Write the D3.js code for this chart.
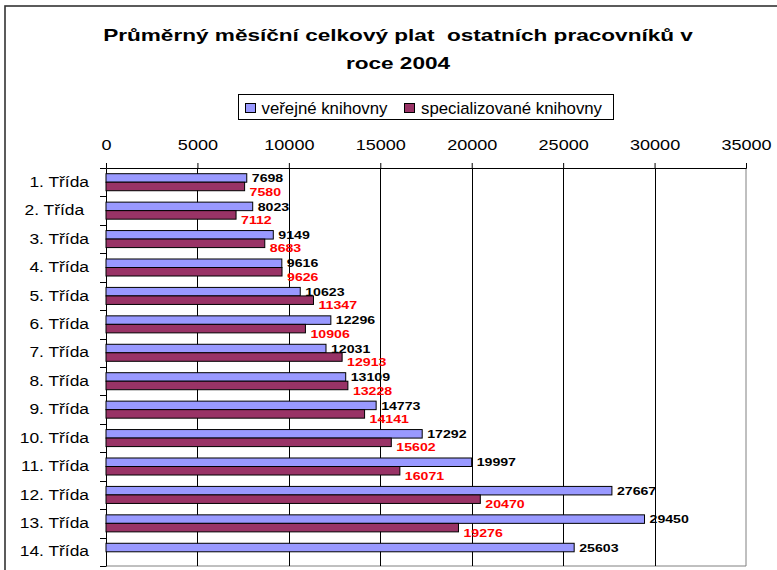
<!DOCTYPE html>
<html><head><meta charset="utf-8">
<script src="https://cdn.jsdelivr.net/npm/d3@7"></script>
<style>body{margin:0;background:#fff}svg{display:block;font-family:Arial,"Liberation Sans",sans-serif}</style>
</head><body>
<script>
const categories = ["1. Třída","2. Třída ","3. Třída","4. Třída","5. Třída","6. Třída","7. Třída","8. Třída","9. Třída","10. Třída","11. Třída","12. Třída","13. Třída","14. Třída"];
const seriesNames = ["veřejné knihovny","specializované knihovny"];
const verejne = [7698,8023,9149,9616,10623,12296,12031,13109,14773,17292,19997,27667,29450,25603];
const specializovane = [7580,7112,8683,9626,11347,10906,12913,13228,14141,15602,16071,20470,19276,null];
const xTicks = [0,5000,10000,15000,20000,25000,30000,35000];
const titleLines = ["Průměrný měsíční celkový plat  ostatních pracovníků v","roce 2004"];

const W=777,H=570;
const FONT="Arial,'Liberation Sans',sans-serif";
const svg=d3.select("body").append("svg").attr("width",W).attr("height",H);
// outer frame
svg.append("rect").attr("x",5).attr("y",6).attr("width",900).attr("height",900)
  .attr("fill","none").attr("stroke","#333").attr("stroke-width",1.6);

const L=106,R=746,T=168,B=566;
const x=d3.scaleLinear().domain([0,35000]).range([L,R]);
const y=d3.scaleBand().domain(categories).range([T,B]).padding(0);
const ys=d3.scaleBand().domain([0,1]).range([0,y.bandwidth()]).paddingInner(0).paddingOuter(0.67);
const colors=["#9999FF","#993366"];
const labelColors=["#000000","#FF0000"];

// plot border (right & bottom gray)
svg.append("path").attr("d",`M${L},${B}H${R}V${T}`).attr("fill","none").attr("stroke","#808080").attr("stroke-width",1);
// gridlines
svg.append("g").selectAll("line").data(xTicks.filter(d=>d>0&&d<35000)).join("line")
  .attr("x1",d=>Math.round(x(d))+0.5).attr("x2",d=>Math.round(x(d))+0.5).attr("y1",T).attr("y2",B)
  .attr("stroke","#000").attr("stroke-width",1);

// top axis
const xAxis=d3.axisTop(x).tickValues(xTicks).tickFormat(d3.format("d")).tickSize(5).tickPadding(13);
const gx=svg.append("g").attr("transform",`translate(0,${T})`).call(xAxis);
gx.select(".domain").attr("stroke","#000");
gx.selectAll(".tick line").attr("stroke","#000");
gx.selectAll("text").attr("font-size",14).attr("fill","#000").attr("font-family",FONT)
  .attr("transform","scale(1.29,1)");

// left axis
const ySx=1.2, yPad=17;
const yAxis=d3.axisLeft(y).tickSize(0).tickPadding(yPad);
const gy=svg.append("g").attr("transform",`translate(${L},0)`).call(yAxis);
gy.select(".domain").attr("stroke","#000");
gy.selectAll("text").attr("font-size",14.5).attr("fill","#000").attr("font-family",FONT)
  .attr("x",-yPad/ySx).attr("transform",`scale(${ySx},1)`).style("white-space","pre");
// category boundary ticks
gy.append("g").selectAll("line").data(categories.concat([null])).join("line")
  .attr("x1",-6).attr("x2",0)
  .attr("y1",(d,i)=>Math.round(i<categories.length?y(d):B)+0.5)
  .attr("y2",(d,i)=>Math.round(i<categories.length?y(d):B)+0.5)
  .attr("stroke","#000");

const data=[verejne,specializovane];
data.forEach((vals,si)=>{
  const g=svg.append("g");
  const rows=categories.map((c,i)=>({c,v:vals[i]})).filter(d=>d.v!=null);
  g.selectAll("rect").data(rows).join("rect")
    .attr("x",L).attr("y",d=>y(d.c)+ys(si)).attr("width",d=>x(d.v)-L).attr("height",ys.bandwidth())
    .attr("fill",colors[si]).attr("stroke","#000").attr("stroke-width",1);
  g.selectAll("text").data(rows).join("text")
    .attr("transform",d=>`translate(${x(d.v)+5},${y(d.c)+ys(si)+ys.bandwidth()/2+(si===1?5:0)}) scale(1.2,1)`)
    .attr("dy","0.35em").attr("font-size",11.8).attr("font-weight","bold")
    .attr("fill",labelColors[si]).text(d=>d.v);
});

// title
svg.append("g").selectAll("text").data(titleLines).join("text")
  .attr("transform",(d,i)=>`translate(398,${41+i*28}) scale(1.37,1)`).attr("text-anchor","middle")
  .attr("font-size",16.5).attr("font-weight","bold").style("white-space","pre").text(d=>d);

// legend
const lg=svg.append("g");
lg.append("rect").attr("x",238.5).attr("y",94.5).attr("width",375).attr("height",25)
  .attr("fill","#fff").attr("stroke","#000");
const items=[{x:245,tx:261.5,t:seriesNames[0],c:colors[0]},{x:404,tx:421,t:seriesNames[1],c:colors[1]}];
items.forEach(it=>{
  lg.append("rect").attr("x",it.x+0.5).attr("y",103.5).attr("width",10).attr("height",9)
    .attr("fill",it.c).attr("stroke","#000");
  lg.append("text").attr("transform",`translate(${it.tx},108) scale(1.05,1)`).attr("dy","0.35em").attr("font-size",16)
    .text(it.t);
});
</script>
</body></html>
